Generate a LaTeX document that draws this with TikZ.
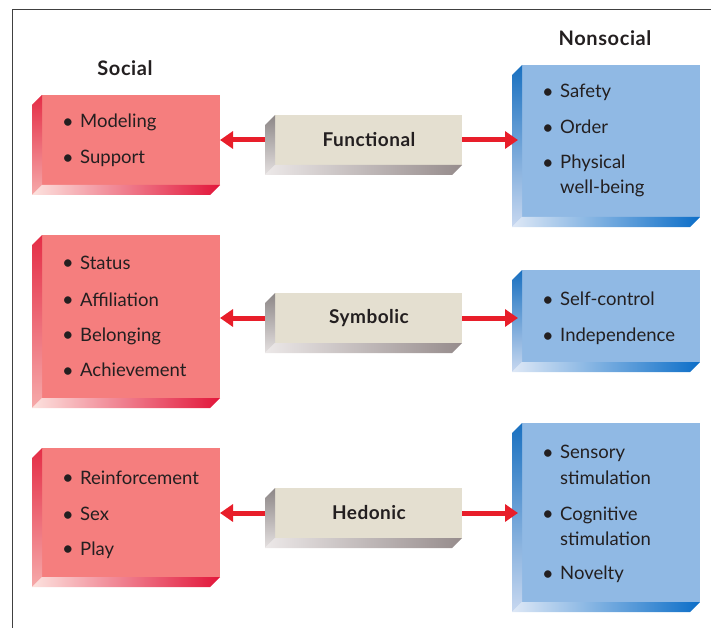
\documentclass[tikz,border=0pt]{standalone}
\usepackage{fontspec}
\setmainfont{Lato}
\usetikzlibrary{arrows.meta}
\definecolor{redfront}{RGB}{245,126,126}
\definecolor{redside}{RGB}{228,45,70}
\definecolor{redsidelight}{RGB}{246,170,170}
\definecolor{redbotlight}{RGB}{252,226,222}
\definecolor{redbotdark}{RGB}{226,22,58}
\definecolor{bluefront}{RGB}{144,185,228}
\definecolor{blueside}{RGB}{25,112,192}
\definecolor{bluesidelight}{RGB}{200,216,240}
\definecolor{bluebotlight}{RGB}{222,232,246}
\definecolor{bluebotdark}{RGB}{12,110,200}
\definecolor{beigefront}{RGB}{228,223,208}
\definecolor{greyside}{RGB}{140,134,134}
\definecolor{greysidelight}{RGB}{228,224,224}
\definecolor{greybotlight}{RGB}{236,232,232}
\definecolor{greybotdark}{RGB}{150,140,140}
\definecolor{arrred}{RGB}{232,30,42}
\definecolor{txt}{RGB}{35,31,32}
\newcommand{\mkfaces}[5]{%
  \shade[top color=#2,bottom color=#3] (#1.north west) -- ++(-10,10) -- ([shift={(-10,10)}]#1.south west) -- (#1.south west) -- cycle;
  \shade[left color=#4,right color=#5] (#1.south west) -- ++(-10,10) -- ([shift={(-10,10)}]#1.south east) -- (#1.south east) -- cycle;
}
\tikzset{
  front/.style={anchor=north west, inner sep=0pt, outer sep=0pt, draw=none},
  socbox/.style={front, fill=redfront, minimum width=178pt},
  nonbox/.style={front, fill=bluefront, minimum width=178pt},
  midbox/.style={front, fill=beigefront, minimum width=187pt, minimum height=50pt},
  itemtxt/.style={anchor=base west, inner sep=0pt, text=txt, font=\fontsize{18.5}{22}\selectfont},
  headtxt/.style={anchor=base, inner sep=0pt, text=txt, font=\bfseries\fontsize{20}{24}\selectfont\addfontfeatures{LetterSpace=3}},
  midtxt/.style={anchor=base, inner sep=0pt, text=txt, font=\bfseries\fontsize{19}{23}\selectfont\addfontfeatures{LetterSpace=2.5}},
  arr/.style={draw=arrred, line width=5pt, -{Triangle[length=13pt,width=17pt]}},
  frameline/.style={draw=black!75, line width=1pt}
}
\newcommand{\bul}{\makebox[18pt][l]{\raisebox{-0.6pt}{\fontsize{20}{20}\selectfont\textbullet}}}
\begin{document}
\begin{tikzpicture}[x=1pt,y=-1pt]
\useasboundingbox (0,0) rectangle (711,628);
\draw[frameline] (12,628) -- (12,10) -- (711,10);

% headings
\node[headtxt] (hsoc) at (125,76) {Social};
\node[headtxt] (hnon) at (605,46) {Nonsocial};

% social boxes
\node[socbox, minimum height=90pt] (s1) at (42,95) {};
\mkfaces{s1}{redside}{redsidelight}{redbotlight}{redbotdark}
\node[socbox, minimum height=163pt] (s2) at (42,235) {};
\mkfaces{s2}{redside}{redsidelight}{redbotlight}{redbotdark}
\node[socbox, minimum height=129pt] (s3) at (42,448) {};
\mkfaces{s3}{redside}{redsidelight}{redbotlight}{redbotdark}

% nonsocial boxes
\node[nonbox, minimum height=152pt] (n1) at (522,65) {};
\mkfaces{n1}{blueside}{bluesidelight}{bluebotlight}{bluebotdark}
\node[nonbox, minimum height=92pt] (n2) at (522,270) {};
\mkfaces{n2}{blueside}{bluesidelight}{bluebotlight}{bluebotdark}
\node[nonbox, minimum height=179pt] (n3) at (522,423) {};
\mkfaces{n3}{blueside}{bluesidelight}{bluebotlight}{bluebotdark}

% middle boxes
\node[midbox] (f) at (275,115) {};
\mkfaces{f}{greyside}{greysidelight}{greybotlight}{greybotdark}
\node[midbox] (sy) at (275,293) {};
\mkfaces{sy}{greyside}{greysidelight}{greybotlight}{greybotdark}
\node[midbox] (h) at (275,488) {};
\mkfaces{h}{greyside}{greysidelight}{greybotlight}{greybotdark}

\node[midtxt] (tf) at (369,146.5) {Functional};
\node[midtxt] (tsy) at (369,323.5) {Symbolic};
\node[midtxt] (th) at (369,519.5) {Hedonic};

% arrows
\draw[arr] ([xshift=-10pt]f.west) -- (f.west -| s1.east);
\draw[arr] (f.east) -- ([xshift=-4pt]f.east -| n1.west);
\draw[arr] ([xshift=-10pt]sy.west) -- (sy.west -| s2.east);
\draw[arr] (sy.east) -- ([xshift=-4pt]sy.east -| n2.west);
\draw[arr] ([xshift=-10pt]h.west) -- (h.west -| s3.east);
\draw[arr] (h.east) -- ([xshift=-4pt]h.east -| n3.west);

% social items
\node[itemtxt] (a1) at (62,127.5) {\bul Modeling};
\node[itemtxt] (a2) at (62,163.5) {\bul Support};
\node[itemtxt] (b1) at (62,269) {\bul Status};
\node[itemtxt] (b2) at (62,306) {\bul Affiliation};
\node[itemtxt] (b3) at (62,341) {\bul Belonging};
\node[itemtxt] (b4) at (62,376.5) {\bul Achievement};
\node[itemtxt] (c1) at (62,484) {\bul Reinforcement};
\node[itemtxt] (c2) at (62,520.5) {\bul Sex};
\node[itemtxt] (c3) at (62,555) {\bul Play};

% nonsocial items
\node[itemtxt] (d1) at (542,97.5) {\bul Safety};
\node[itemtxt] (d2) at (542,133.5) {\bul Order};
\node[itemtxt] (d3) at (542,168.5) {\bul Physical};
\node[itemtxt] (d4) at (560,193.5) {well-being};
\node[itemtxt] (e1) at (542,305.5) {\bul Self-control};
\node[itemtxt] (e2) at (542,341.5) {\bul Independence};
\node[itemtxt] (g1) at (542,458.5) {\bul Sensory};
\node[itemtxt] (g2) at (560,484) {stimulation};
\node[itemtxt] (g3) at (542,520) {\bul Cognitive};
\node[itemtxt] (g4) at (560,545) {stimulation};
\node[itemtxt] (g5) at (542,579.5) {\bul Novelty};
\end{tikzpicture}
\end{document}
